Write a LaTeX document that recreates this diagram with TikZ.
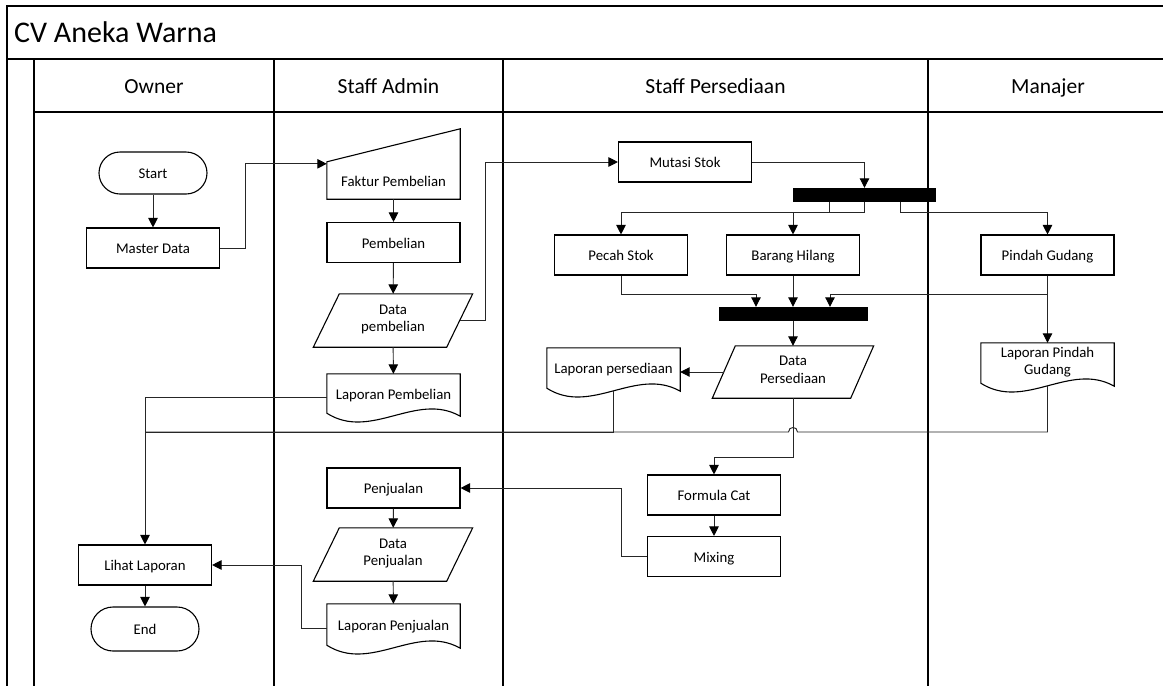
\documentclass[tikz,border=0pt]{standalone}
\usepackage{fontspec}
\setmainfont{Carlito}
\usetikzlibrary{arrows.meta,calc}
\newcommand{\boxfont}{\fontsize{14.8}{17.6}\selectfont}
\newcommand{\headfont}{\fontsize{21.5}{25}\selectfont}
\newcommand{\titlefont}{\fontsize{30}{34}\selectfont}
\newcommand{\bstrut}{\rule[-0.3em]{0pt}{1.35em}}
\newcommand{\hstrut}{\rule[-0.3em]{0pt}{1.25em}}
\newcommand{\docshape}[1]{\draw[shp] (#1.south west) -- (#1.north west) -- (#1.north east) -- ($(#1.south east)+(0,3)$) .. controls ($(#1.south east)+(-44,-22)$) and ($(#1.south west)+(44,28)$) .. (#1.south west) -- cycle;}
\newcommand{\paralshape}[2]{\draw[shp] ($(#1.south west)+(-#2,0)$) -- ($(#1.north west)+(#2,0)$) -- ($(#1.north east)+(#2,0)$) -- ($(#1.south east)+(-#2,0)$) -- cycle;}
\tikzset{
  lane/.style={line width=1.6pt, black},
  strutted/.style={execute at begin node=\bstrut, execute at end node=\bstrut},
  box/.style={draw, line width=1.1pt, minimum width=133pt, minimum height=40pt, inner sep=0pt, font=\boxfont, align=center, strutted},
  ghost/.style={minimum width=133pt, inner sep=0pt, font=\boxfont, align=center, strutted},
  term/.style={draw, line width=1.1pt, rounded corners=21pt, minimum width=108pt, minimum height=42pt, inner sep=0pt, font=\boxfont, strutted},
  shp/.style={line width=1.1pt, black},
  conn/.style={line width=0.95pt, black!85},
  arr/.style={conn, -{Triangle[length=9.5pt,width=9.5pt,color=black]}},
  bar/.style={fill=black, draw=none, minimum width=143pt, minimum height=14pt, inner sep=0pt},
  head/.style={font=\headfont, inner sep=0pt, execute at begin node=\hstrut, execute at end node=\hstrut}
}
\begin{document}
\begin{tikzpicture}[x=1pt,y=-1pt]
\useasboundingbox (0,0) rectangle (1163,686);
\clip (0,0) rectangle (1163,686);
\fill[white] (0,0) rectangle (1163,686);

% frame and lanes
\draw[lane] (7,700) -- (7,6) -- (1200,6);
\draw[lane] (7,59) -- (1200,59);
\draw[lane] (34,59) -- (34,700);
\draw[lane] (34,112) -- (1200,112);
\draw[lane] (274,59) -- (274,700);
\draw[lane] (503,59) -- (503,700);
\draw[lane] (928,59) -- (928,700);

\node[font=\titlefont, anchor=west, inner sep=0pt, execute at begin node=\strut] (title) at (14,36) {CV Aneka Warna};
\node[head] (hOwner) at (154,87) {Owner};
\node[head] (hAdmin) at (388.5,87) {Staff Admin};
\node[head] (hPers) at (715.5,87) {Staff Persediaan};
\node[head] (hMan) at (1048,87) {Manajer};

% Owner lane
\node[term] (start) at (153,173) {Start};
\node[box] (md) at (153,248) {Master Data};
\node[box] (ll) at (145,565) {Lihat Laporan};
\node[term, minimum height=44pt, rounded corners=22pt] (end) at (145,629) {End};

% Staff Admin lane
\node[ghost, minimum height=37pt] (fp) at (393.5,180.5) {Faktur Pembelian};
\draw[shp] (fp.south west) -- (fp.north west) -- ($(fp.north east)+(0,-33)$) -- (fp.south east) -- cycle;
\node[box] (pb) at (393.5,242.5) {Pembelian};
\node[ghost, minimum height=53pt] (dp) at (393,320.5) {Data\\pembelian};
\paralshape{dp}{13}
\node[ghost, minimum height=39pt] (lpb) at (393.5,393.5) {Laporan Pembelian};
\docshape{lpb}
\node[box] (pj) at (393.5,488) {Penjualan};
\node[ghost, minimum height=53pt] (dpj) at (393,554.5) {Data\\Penjualan};
\paralshape{dpj}{13}
\node[ghost, minimum height=41pt] (lpj) at (393.5,624.5) {Laporan Penjualan};
\docshape{lpj}

% Staff Persediaan lane
\node[box] (ms) at (685,162) {Mutasi Stok};
\node[bar] (b1) at (864.5,195) {};
\node[box] (ps) at (621,255) {Pecah Stok};
\node[box] (bh) at (793,255) {Barang Hilang};
\node[bar, minimum width=149pt] (b2) at (793,314) {};
\node[ghost, minimum width=138pt, minimum height=52pt] (dps) at (793,372) {Data\\Persediaan};
\paralshape{dps}{11.5}
\node[ghost, minimum height=40pt] (lps) at (613.5,368) {Laporan persediaan};
\docshape{lps}
\node[box] (fc) at (714,495) {Formula Cat};
\node[box] (mx) at (714,556.5) {Mixing};

% Manajer lane
\node[box] (pg) at (1047.5,255) {Pindah Gudang};
\node[ghost, minimum height=40pt] (lpg) at (1047.5,363) {Laporan Pindah\\Gudang};
\docshape{lpg}

% connectors
\draw[arr] (start) -- (md);
\draw[arr] (md.east) -- ++(25,0) |- ($(fp.north west)+(0,2)$);
\draw[arr] (fp) -- (pb);
\draw[arr] (pb) -- (dp);
\draw[arr] (dp) -- (lpb);
\draw[arr] (dp.east) -- ++(26,0) |- (ms.west);
\draw[arr] (ms.east) -| (b1.north);
\draw[arr] (b1.south) -- ++(0,10) -| (ps.north);
\draw[arr] ($(b1.south)+(-35.5,0)$) -- ++(0,10) -| (bh.north);
\draw[arr] ($(b1.south)+(35.5,0)$) -- ++(0,10) -| (pg.north);
\draw[arr] (ps.south) -- ++(0,19) -| ($(b2.north)+(-37,0)$);
\draw[arr] (bh.south) -- (bh.south |- b2.north);
\draw[arr] (pg.south) -- ++(0,19) -| ($(b2.north)+(37,0)$);
\draw[arr] (pg.south) -- (lpg.north);
\draw[arr] (b2.south) -- (dps.north);
\draw[arr] (dps.west) -- (dps.west -| lps.east);
\coordinate (j) at (145,432);
\coordinate (jx) at (dps.south |- j);
\draw[conn] ($(lps.south)+(0,3)$) |- (j);
\draw[conn] ($(lpg.south)+(0,3)$) |- ($(jx)+(4.5,0)$) .. controls ($(jx)+(4.5,-6)$) and ($(jx)+(-4.5,-6)$) .. ($(jx)+(-4.5,0)$) -- (j);
\draw[arr] ($(lpb.west)+(0,3.5)$) -| (ll.north);
\draw[arr] (dps.south) -- ++(0,59) -| (fc.north);
\draw[arr] (fc) -- (mx);
\draw[arr] (mx.west) -- ++(-25,0) |- (pj.east);
\draw[arr] (pj) -- (dpj);
\draw[arr] (dpj) -- (lpj);
\draw[arr] ($(lpj.west)+(0,3.5)$) -- ++(-25,0) |- (ll.east);
\draw[arr] (ll) -- (end);
\end{tikzpicture}
\end{document}
